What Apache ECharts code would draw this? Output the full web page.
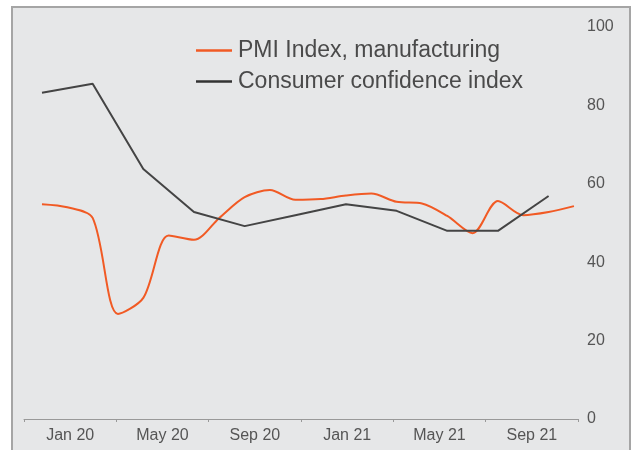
<!DOCTYPE html>
<html>
<head>
<meta charset="utf-8">
<script src="https://cdn.jsdelivr.net/npm/echarts@6/dist/echarts.min.js"></script>
<style>
  html, body { margin: 0; padding: 0; background: #fff; overflow: hidden; }
  #frame {
    position: absolute; left: 11px; top: 6px; width: 616px; height: 460px;
    background: #e6e7e8; border: 2px solid #a5a5a5;
  }
  #chart { position: absolute; left: 0; top: 0; width: 632px; height: 450px; }
</style>
</head>
<body>
<div id="frame"></div>
<div id="chart"></div>
<script>
// axis labels (one per 4-month block)
const xLabels = ['Jan 20', 'May 20', 'Sep 20', 'Jan 21', 'May 21', 'Sep 21']

// PMI Index, manufacturing (monthly)
const pmiMonths = [
  '2020-01', '2020-02', '2020-03', '2020-04', '2020-05', '2020-06',
  '2020-07', '2020-08', '2020-09', '2020-10', '2020-11', '2020-12',
  '2021-01', '2021-02', '2021-03', '2021-04', '2021-05', '2021-06',
  '2021-07', '2021-08', '2021-09', '2021-10'
]
const pmiValues = [
  54.8, 54.0, 51.3, 26.8, 30.9, 46.8,
  45.7, 51.3, 56.6, 58.4, 55.9, 56.1,
  57.0, 57.5, 55.4, 55.0, 51.8, 47.4,
  55.6, 52.0, 52.8, 54.3
]

// Consumer confidence index (bimonthly)
const ccMonths = [
  '2020-01', '2020-03', '2020-05', '2020-07', '2020-09', '2020-11',
  '2021-01', '2021-03', '2021-05', '2021-07', '2021-09'
]
const ccValues = [83.2, 85.5, 63.8, 52.8, 49.2, 52.0, 54.8, 53.1, 48.0, 48.0, 56.9]

// months since Jan 2020
function monthIndex(s) {
  const [y, m] = s.split('-').map(Number)
  return (y - 2020) * 12 + (m - 1)
}

const labelColor = '#555555'
const chart = echarts.init(document.getElementById('chart'), null, { renderer: 'canvas' })

chart.setOption({
  backgroundColor: 'transparent',
  animation: false,
  textStyle: { fontFamily: 'Liberation Sans, Arial, sans-serif' },
  grid: { left: 24, right: 54, top: 27, bottom: 31 },
  legend: {
    orient: 'vertical',
    left: 196,
    top: 35,
    padding: 0,
    itemGap: 0,
    itemWidth: 36,
    itemHeight: 2.5,
    icon: 'rect',
    textStyle: { fontSize: 23, color: '#4a4a4a', lineHeight: 31, padding: [0, 0, 0, 1] },
    data: ['PMI Index, manufacturing', 'Consumer confidence index']
  },
  xAxis: [
    {
      type: 'category',
      data: xLabels,
      boundaryGap: true,
      axisLine: { lineStyle: { color: '#999999', width: 1 } },
      axisTick: { show: true, length: 3, lineStyle: { color: '#999999' } },
      axisLabel: { color: labelColor, fontSize: 16, margin: 9 }
    },
    {
      // hidden month scale used by the lines
      type: 'value',
      min: -0.71,
      max: 21.16,
      show: false
    }
  ],
  yAxis: {
    type: 'value',
    position: 'right',
    min: 0,
    max: 100,
    interval: 20,
    axisLine: { show: false },
    axisTick: { show: false },
    splitLine: { show: false },
    axisLabel: { color: labelColor, fontSize: 16, margin: 9 }
  },
  series: [
    {
      name: 'PMI Index, manufacturing',
      type: 'line',
      xAxisIndex: 1,
      data: pmiMonths.map((m, i) => [monthIndex(m), pmiValues[i]]),
      smooth: 0.3,
      showSymbol: false,
      lineStyle: { color: '#f15a24', width: 2 },
      itemStyle: { color: '#f15a24' }
    },
    {
      name: 'Consumer confidence index',
      type: 'line',
      xAxisIndex: 1,
      data: ccMonths.map((m, i) => [monthIndex(m), ccValues[i]]),
      smooth: false,
      showSymbol: false,
      lineStyle: { color: '#444444', width: 2 },
      itemStyle: { color: '#333333' }
    }
  ]
})
</script>
</body>
</html>
